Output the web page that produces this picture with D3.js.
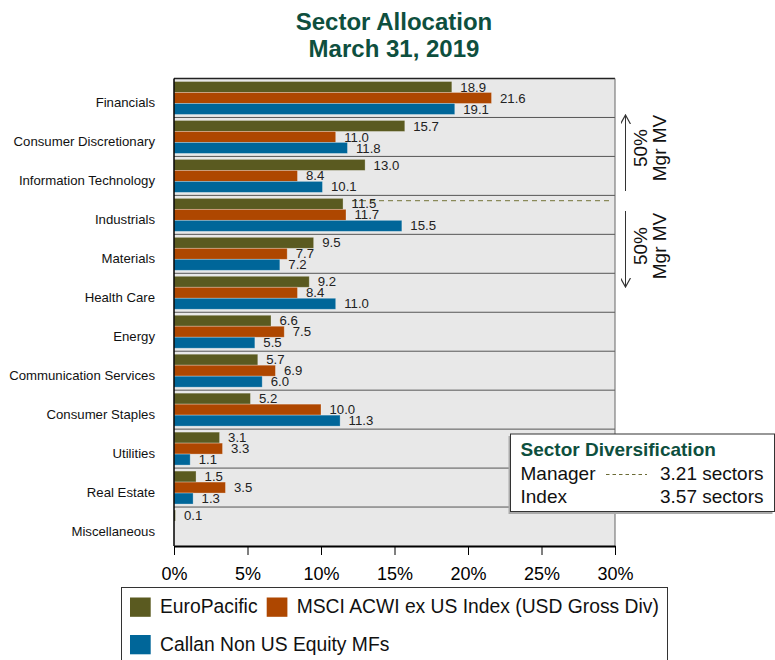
<!DOCTYPE html>
<html><head><meta charset="utf-8">
<script src="https://cdn.jsdelivr.net/npm/d3@7"></script>
<style>body{margin:0;background:#fff;} svg{display:block;font-family:"Liberation Sans",Arial,sans-serif;}</style>
</head><body>
<svg id="chart" width="775" height="660"></svg>
<script>
const categories = ["Financials","Consumer Discretionary","Information Technology","Industrials","Materials","Health Care","Energy","Communication Services","Consumer Staples","Utilities","Real Estate","Miscellaneous"];
const seriesNames = ["EuroPacific","MSCI ACWI ex US Index (USD Gross Div)","Callan Non US Equity MFs"];
const euroPacific = [18.9,15.7,13.0,11.5,9.5,9.2,6.6,5.7,5.2,3.1,1.5,0.1];
const msciAcwi   = [21.6,11.0,8.4,11.7,7.7,8.4,7.5,6.9,10.0,3.3,3.5,null];
const callan     = [19.1,11.8,10.1,15.5,7.2,11.0,5.5,6.0,11.3,1.1,1.3,null];
const xTicks = [0,5,10,15,20,25,30];
const managerDiv = 3.21, indexDiv = 3.57;
const colors = ["#5a5a20","#ae4700","#006699"];

(function(){
const svg = d3.select("#chart");
const pLeft = 174, pRight = 615, pTop = 78.5, pBottom = 546;
const x = d3.scaleLinear().domain([0,30]).range([pLeft,pRight]);
const y = d3.scaleBand().domain(categories).range([pTop,pBottom]).padding(0);
const ySub = d3.scaleBand().domain(seriesNames).range([3, y.bandwidth()-3]).padding(0);
const series = [euroPacific, msciAcwi, callan];

const green = "#0e4f3e";
svg.append("text").attr("x",394).attr("y",29.5).attr("text-anchor","middle").attr("font-size",24).attr("font-weight","bold").attr("fill",green).text("Sector Allocation");
svg.append("text").attr("x",394).attr("y",57).attr("text-anchor","middle").attr("font-size",24).attr("font-weight","bold").attr("fill",green).text("March 31, 2019");

svg.append("rect").attr("x",pLeft).attr("y",pTop).attr("width",pRight-pLeft).attr("height",pBottom-pTop).attr("fill","#e8e8e8");

categories.slice(1).forEach(c=>{
  svg.append("line").attr("x1",pLeft).attr("x2",pRight).attr("y1",y(c)).attr("y2",y(c)).attr("stroke","#555").attr("stroke-width",1);
});

// manager diversification dashed line (drawn under labels)
const yDiv = d3.scaleLinear().domain([0,categories.length]).range([pTop,pBottom]);
const dashY = yDiv(managerDiv) - 3;
svg.append("line").attr("x1",352).attr("x2",610).attr("y1",dashY).attr("y2",dashY).attr("stroke","#8a8a5a").attr("stroke-width",1.2).attr("stroke-dasharray","5,4");

series.forEach((vals,si)=>{
  categories.forEach((c,ci)=>{
    const v = vals[ci];
    if(v==null) return;
    const by = y(c)+ySub(seriesNames[si]);
    svg.append("rect").attr("x",x(0)).attr("y",by).attr("width",x(v)-x(0)).attr("height",ySub.bandwidth())
      .attr("fill",colors[si]).attr("stroke","rgba(255,255,255,0.35)").attr("stroke-width",0.8);
    svg.append("text").attr("x",x(v)+8.5).attr("y",by+ySub.bandwidth()/2+4.6).attr("font-size",13.2).attr("fill","#222").text(v.toFixed(1));
  });
});

categories.forEach(c=>{
  svg.append("text").attr("x",155).attr("y",y(c)+y.bandwidth()/2+9.5).attr("text-anchor","end").attr("font-size",13.2).attr("fill","#111").text(c);
});

svg.append("line").attr("x1",pLeft).attr("x2",pRight).attr("y1",pTop).attr("y2",pTop).attr("stroke","#222").attr("stroke-width",1.5);
svg.append("line").attr("x1",pRight).attr("x2",pRight).attr("y1",pTop).attr("y2",pBottom).attr("stroke","#666").attr("stroke-width",1);
svg.append("line").attr("x1",pLeft).attr("x2",pLeft).attr("y1",pTop).attr("y2",pBottom).attr("stroke","#000").attr("stroke-width",1.5);

const xAxis = d3.axisBottom(x).tickValues(xTicks).tickFormat(d=>d+"%").tickSize(9).tickSizeOuter(0);
const gx = svg.append("g").attr("transform",`translate(0,${pBottom})`).call(xAxis);
gx.select(".domain").attr("stroke","#000").attr("stroke-width",2);
gx.selectAll(".tick line").attr("stroke","#000");
gx.selectAll(".tick text").attr("y",12).attr("dy","1.22em").attr("font-size",18).attr("fill","#000").attr("font-family","Liberation Sans, Arial, sans-serif");

const defs = svg.append("defs");
defs.append("marker").attr("id","arr").attr("viewBox","0 0 10 10").attr("refX",9).attr("refY",5).attr("markerWidth",10).attr("markerHeight",10).attr("orient","auto-start-reverse").attr("markerUnits","userSpaceOnUse")
  .append("path").attr("d","M0,0 L9,5 L0,10").attr("fill","none").attr("stroke","#333").attr("stroke-width",1.2);
svg.append("line").attr("x1",625.5).attr("x2",625.5).attr("y1",191).attr("y2",115).attr("stroke","#333").attr("stroke-width",1).attr("marker-end","url(#arr)");
svg.append("line").attr("x1",625.5).attr("x2",625.5).attr("y1",211).attr("y2",287).attr("stroke","#333").attr("stroke-width",1).attr("marker-end","url(#arr)");
[148,246].forEach(cy=>{
  const g = svg.append("g").attr("transform",`translate(0,${cy}) rotate(-90)`);
  g.append("text").attr("x",0).attr("y",647).attr("text-anchor","middle").attr("font-size",19).attr("fill","#111").text("50%");
  g.append("text").attr("x",0).attr("y",665.5).attr("text-anchor","middle").attr("font-size",19).attr("fill","#111").text("Mgr MV");
});

svg.append("rect").attr("x",508.5).attr("y",436).attr("width",264).attr("height",78).attr("fill","#aaa");
svg.append("rect").attr("x",510.5).attr("y",434).attr("width",264).attr("height",77.5).attr("fill","#fff").attr("stroke","#333").attr("stroke-width",1);
svg.append("text").attr("x",520.5).attr("y",456).attr("font-size",19).attr("font-weight","bold").attr("fill",green).text("Sector Diversification");
svg.append("text").attr("x",520.5).attr("y",480).attr("font-size",19).attr("fill","#111").text("Manager");
svg.append("line").attr("x1",606).attr("x2",647).attr("y1",474.5).attr("y2",474.5).attr("stroke","#6b6b35").attr("stroke-width",1).attr("stroke-dasharray","3.5,3");
svg.append("text").attr("x",763.5).attr("y",480).attr("text-anchor","end").attr("font-size",19).attr("fill","#111").text(managerDiv.toFixed(2)+" sectors");
svg.append("text").attr("x",520.5).attr("y",502.5).attr("font-size",19).attr("fill","#111").text("Index");
svg.append("text").attr("x",763.5).attr("y",502.5).attr("text-anchor","end").attr("font-size",19).attr("fill","#111").text(indexDiv.toFixed(2)+" sectors");

svg.append("rect").attr("x",121.5).attr("y",587.5).attr("width",546).attr("height",80).attr("fill","#fff").attr("stroke","#333").attr("stroke-width",1);
const legPos = [[130,597.5,30],[266.7,597.5,30],[130,635,30]];
seriesNames.forEach((n,i)=>{
  const [lx,ly,off] = legPos[i];
  svg.append("rect").attr("x",lx).attr("y",ly).attr("width",20.7).attr("height",19.3).attr("fill",colors[i]);
  svg.append("text").attr("x",lx+off).attr("y",ly+15.8).attr("font-size",19.3).attr("fill","#111").text(n);
});
})();
</script>
</body></html>
